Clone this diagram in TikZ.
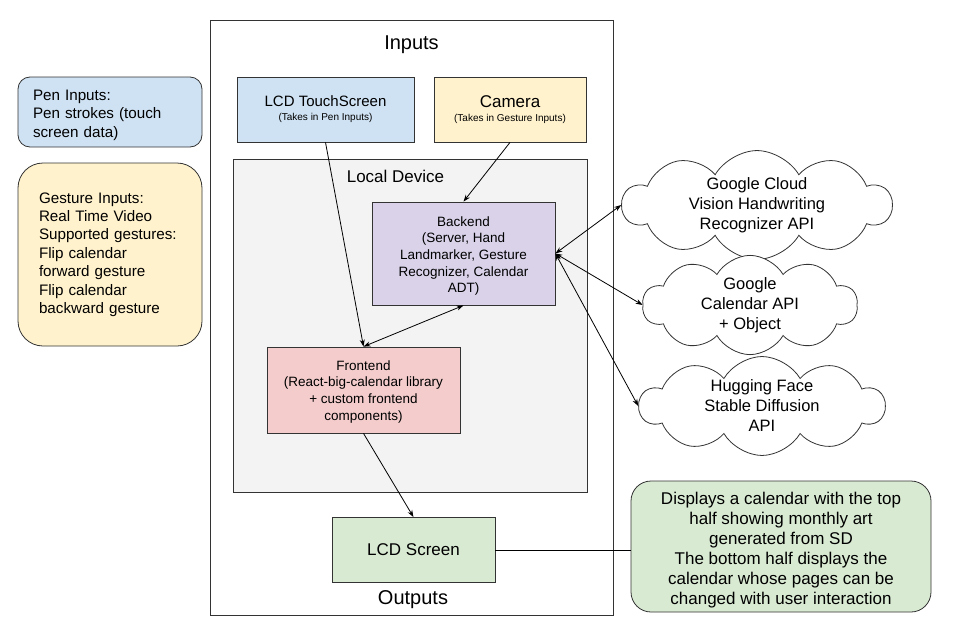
\documentclass[tikz,border=0pt]{standalone}
\usepackage{fontspec}
\setmainfont{Liberation Sans}
\usetikzlibrary{shapes.symbols,arrows.meta}

\definecolor{penblue}{HTML}{CFE2F3}
\definecolor{gestyellow}{HTML}{FFF2CC}
\definecolor{devgray}{HTML}{F3F3F3}
\definecolor{backpurple}{HTML}{D9D2E9}
\definecolor{frontpink}{HTML}{F4CCCC}
\definecolor{outgreen}{HTML}{D9EAD3}
\newcommand\fsz[2]{\fontsize{#1}{#2}\selectfont}

\begin{document}
\begin{tikzpicture}[x=1pt, y=-1pt,
 every node/.style = {shape=rectangle, draw=black!80, line width=0.8pt, align=center, inner sep=0pt},
 plain/.style = {draw=none},
 cloudy/.style = {shape=cloud, cloud puffs=10, cloud puff arc=120, cloud ignores aspect, fill=white, font=\fsz{16.5}{20}},
 arr/.style = {line width=0.8pt, -{Stealth[length=7pt,width=5pt]}},
 darr/.style = {line width=0.8pt, {Stealth[length=7pt,width=5pt]}-{Stealth[length=7pt,width=5pt]}}]
 \useasboundingbox (0,0) rectangle (953,637);

 % system frame
 \node (system) [minimum width=403pt, minimum height=595pt] at (411.5,317.5) {};
 \node (inputs) [plain, font=\fsz{20}{24}] at (411.5,45) {Inputs};
 \node (outputs) [plain, font=\fsz{20}{24}] at (413,600) {Outputs};

 % input devices
 \node (touch) [fill=penblue, minimum width=177pt, minimum height=65pt, font=\fsz{15}{18}] at (325.5,109.5)
 {LCD TouchScreen\\[-4pt]{\fsz{10}{12}(Takes in Pen Inputs)}};
 \node (camera) [fill=gestyellow, minimum width=152pt, minimum height=65pt, font=\fsz{17}{18}] at (510,109.5)
 {Camera\\[-4pt]{\fsz{10}{12}(Takes in Gesture Inputs)}};

 % local device
 \node (local) [fill=devgray, minimum width=354pt, minimum height=333pt] at (410,325.5) {};
 \node (localtxt) [plain, font=\fsz{17}{20}] at (395.5,176.5) {Local Device};
 \node (backend) [fill=backpurple, minimum width=183pt, minimum height=103pt, text height=81.7pt,
 font=\fsz{13.5}{16.7}] at (463.5,253.5)
 {Backend\\(Server, Hand\\Landmarker, Gesture\\Recognizer, Calendar\\ADT)};
 \node (frontend) [fill=frontpink, minimum width=193pt, minimum height=86pt, text height=63pt,
 font=\fsz{13.5}{16.7}] at (363.5,390)
 {Frontend\\(React-big-calendar library\\+ custom frontend\\components)};

 % output
 \node (screen) [fill=outgreen, minimum width=163pt, minimum height=65pt, font=\fsz{17}{20}] at (413.5,550) {LCD Screen};

 % notes
 \node (pen) [fill=penblue, rounded corners=12pt, minimum width=184pt, minimum height=70pt, text width=154pt,
 text depth=34pt, align=left, font=\fsz{15.2}{18.4}] at (110,112) {Pen Inputs:\\Pen strokes (touch\\screen data)};
 \node (gesture) [fill=gestyellow, rounded corners=25pt, minimum width=184pt, minimum height=183pt, text width=142pt,
 align=left, font=\fsz{15.2}{18.4}] at (110,254.5)
 {Gesture Inputs:\\Real Time Video\\Supported gestures:\\Flip calendar\\forward gesture\\Flip calendar\\backward gesture};
 \node (display) [fill=outgreen, rounded corners=20pt, minimum width=300pt, minimum height=131pt, text height=120.4pt,
 font=\fsz{17}{20}] at (781,546.5)
 {Displays a calendar with the top\\half showing monthly art\\generated from SD\\The bottom half displays the\\calendar whose pages can be\\changed with user interaction};

 % cloud services
 \node (vision) [cloudy, minimum width=269pt, minimum height=94pt] at (757,205)
 {Google Cloud\\Vision Handwriting\\Recognizer API};
 \node (calapi) [cloudy, minimum width=215pt, minimum height=96pt] at (750,305)
 {Google\\Calendar API\\+ Object};
 \node (hugging) [cloudy, minimum width=245pt, minimum height=96pt] at (762,406)
 {Hugging Face\\Stable Diffusion\\API};

 % connections
 \draw [arr] (touch.south) -- (frontend.north);
 \draw [arr] (camera.south) -- (backend.north);
 \draw [darr] (frontend.north) -- (backend.south);
 \draw [darr] (backend.east) -- (vision.west);
 \draw [darr] (backend.east) -- (calapi.west);
 \draw [darr] (backend.east) -- (hugging.west);
 \draw [arr] (frontend.south) -- (screen.north);
 \draw [line width=0.8pt] (screen.east) -- (screen.east -| display.west);
\end{tikzpicture}
\end{document}
